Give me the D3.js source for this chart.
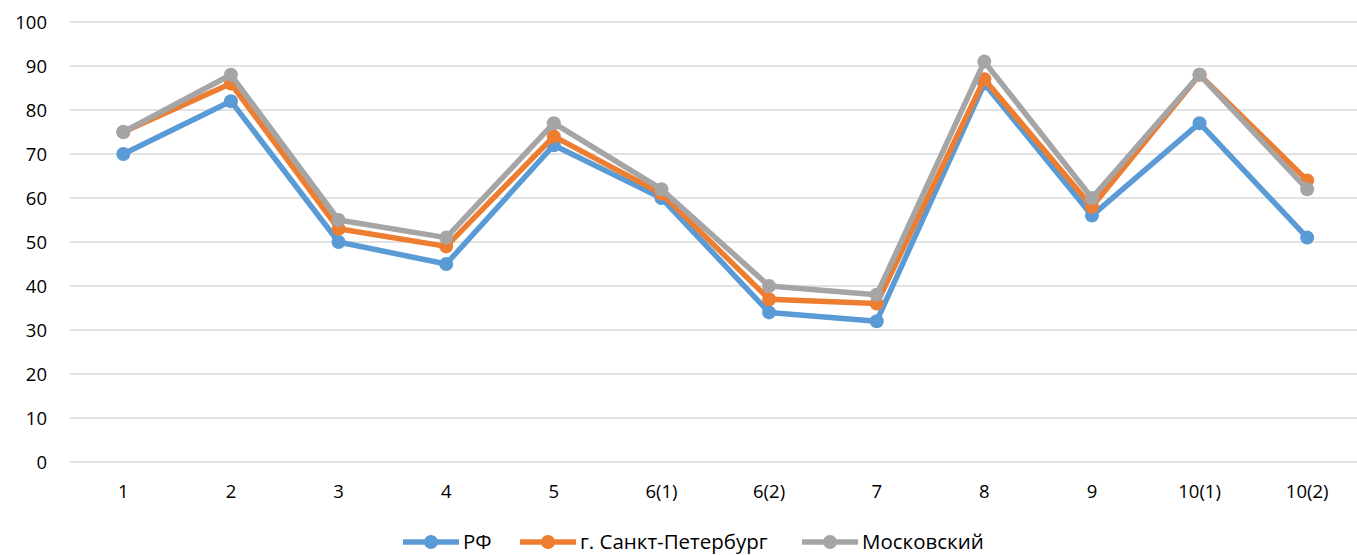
<!DOCTYPE html>
<html><head><meta charset="utf-8">
<script src="https://cdn.jsdelivr.net/npm/d3@7/dist/d3.min.js"></script>
<style>body{margin:0;background:#fff}svg{display:block}text{font-family:"Open Sans","Noto Sans",sans-serif}</style>
</head><body><svg id="c" width="1357" height="555"></svg>
<script>
const categories = ["1","2","3","4","5","6(1)","6(2)","7","8","9","10(1)","10(2)"];
const seriesNames = ["РФ","г. Санкт-Петербург","Московский"];
const rf = [70,82,50,45,72,60,34,32,86,56,77,51];
const spb = [75,86,53,49,74,61,37,36,87,58,88,64];
const msk = [75,88,55,51,77,62,40,38,91,60,88,62];
const yTicks = [0,10,20,30,40,50,60,70,80,90,100];
const colors = ["#5B9BD5","#ED7D31","#A5A5A5"];
const series = [rf, spb, msk];

const svg = d3.select("#c");
const x = d3.scaleBand().domain(categories).range([69.5, 1361]);
const y = d3.scaleLinear().domain([0,100]).range([462, 22]);

const grid = svg.append("g");
grid.selectAll("line").data(yTicks).join("line")
  .attr("x1", 70).attr("x2", 1357)
  .attr("y1", d => y(d)).attr("y2", d => y(d))
  .attr("stroke", "#d9d9d9").attr("stroke-width", 1.3);

const yAxis = svg.append("g").attr("transform","translate(47,0)")
  .call(d3.axisLeft(y).tickValues(yTicks).tickSize(0).tickPadding(0));
yAxis.select(".domain").remove();
yAxis.selectAll("text").attr("font-size", 18.5).attr("fill","#000").attr("dy","0.35em");

const xAxis = svg.append("g").attr("transform","translate(0,482)")
  .call(d3.axisBottom(x).tickSize(0).tickPadding(0));
xAxis.select(".domain").remove();
xAxis.selectAll("text").attr("font-size", 18.5).attr("fill","#000").attr("dy","0.85em");

const cx = c => x(c) + x.bandwidth()/2;
const line = d3.line().x((d,i) => cx(categories[i])).y(d => y(d));

series.forEach((s, k) => {
  const g = svg.append("g");
  g.append("path").datum(s).attr("d", line).attr("fill","none")
    .attr("stroke", colors[k]).attr("stroke-width", 5.5).attr("stroke-linejoin","round");
  g.selectAll("circle").data(s).join("circle")
    .attr("cx", (d,i) => cx(categories[i])).attr("cy", d => y(d))
    .attr("r", 7).attr("fill", colors[k]);
});

const legendX = [403, 520, 802];
const lg = svg.append("g");
seriesNames.forEach((n, k) => {
  const lx = legendX[k], ly = 542;
  lg.append("line").attr("x1", lx).attr("x2", lx+56).attr("y1", ly).attr("y2", ly)
    .attr("stroke", colors[k]).attr("stroke-width", 5.5);
  lg.append("circle").attr("cx", lx+28).attr("cy", ly).attr("r", 7).attr("fill", colors[k]);
  lg.append("text").attr("x", lx+60).attr("y", ly).attr("dy","0.35em")
    .attr("font-size", 20.5).attr("fill","#000").text(n);
});
</script></body></html>
